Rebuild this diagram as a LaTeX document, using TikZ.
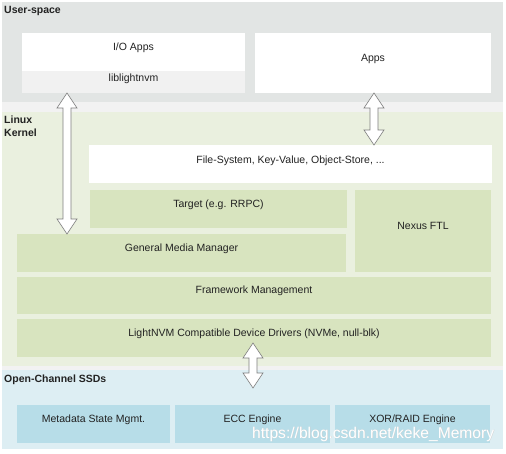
\documentclass[tikz,border=0pt]{standalone}
\usepackage{fontspec}
\setmainfont{Liberation Sans}
\usetikzlibrary{fit,calc}
\definecolor{usbg}{HTML}{E2E5E4}
\definecolor{stripc}{HTML}{F2F2F2}
\definecolor{kbg}{HTML}{EAF0DF}
\definecolor{gbox}{HTML}{D8E4BF}
\definecolor{obg}{HTML}{DDEEF3}
\definecolor{bbox}{HTML}{B7DDE8}
\definecolor{libc}{HTML}{F1F1F1}
\definecolor{txt}{HTML}{222222}
\definecolor{arrc}{HTML}{7F7F7F}
\newcommand{\blockarrow}[2]{%
  \draw[arrstyle] (#1) -- ($(#1)+(10,15)$) -- ($(#1)+(4,15)$) -- ($(#2)+(4,-15)$)
    -- ($(#2)+(10,-15)$) -- (#2) -- ($(#2)+(-10,-15)$) -- ($(#2)+(-4,-15)$)
    -- ($(#1)+(-4,15)$) -- ($(#1)+(-10,15)$) -- cycle;}
\begin{document}
\begin{tikzpicture}[x=1pt,y=-1pt,font=\fontsize{10.5}{12}\selectfont,
  bx/.style={inner sep=0pt,outer sep=0pt,draw=none,fill=#1},
  lbl/.style={inner sep=0pt,text height=7.5pt,text depth=2pt,text=txt,yshift=4.5pt},
  hdr/.style={inner sep=0pt,anchor=base west,font=\fontsize{10.5}{12}\selectfont\bfseries,text=txt,align=left},
  arrstyle/.style={draw=arrc,line width=0.6pt,fill=white,line join=miter}]
\useasboundingbox (0,0) rectangle (506,453);
\fill[white] (0,0) rectangle (506,453);
% regions
\node[bx=usbg,fit={(2,2) (503,102)}] (us) {};
\node[bx=stripc,fit={(2,102) (503,112)}] (strip1) {};
\node[bx=kbg,fit={(2,112) (503,366)}] (kern) {};
\node[bx=stripc,fit={(2,366) (503,370)}] (strip2) {};
\node[bx=obg,fit={(2,370) (503,449)}] (ocs) {};
\node[hdr] (uslbl) at (4,13.5) {User-space};
\node[hdr] (klbl) at (4,136.5) {Linux\\[1.5pt]Kernel};
\node[hdr] (olbl) at (4,382) {Open-Channel SSDs};
% user space
\node[bx=white,fit={(22,33) (245,71)},label={[lbl]center:I/O Apps}] (io) {};
\node[bx=libc,fit={(22,71) (245,93)},label={[lbl,yshift=-1.5pt]center:liblightnvm}] (lib) {};
\node[bx=white,fit={(255,33) (491,93)},label={[lbl]center:Apps}] (apps) {};
% kernel
\node[bx=white,fit={(89,145) (492,183)},label={[lbl,yshift=-1.5pt]center:{File-System, Key-Value, Object-Store, ...}}] (fs) {};
\node[bx=gbox,fit={(90,190) (347,228)},label={[lbl]center:Target (e.g. RRPC)}] (tgt) {};
\node[bx=gbox,fit={(355,190) (491,272)},label={[lbl]center:Nexus FTL}] (nexus) {};
\node[bx=gbox,fit={(17,234) (346,272)},label={[lbl]center:General Media Manager}] (gmm) {};
\node[bx=gbox,fit={(17,277) (491,314)},label={[lbl]center:Framework Management}] (fm) {};
\node[bx=gbox,fit={(17,319) (491,357)},label={[lbl]center:{LightNVM Compatible Device Drivers (NVMe, null-blk)}}] (drv) {};
% open-channel
\node[bx=bbox,fit={(17,405) (170,443)},label={[lbl]center:Metadata State Mgmt.}] (meta) {};
\node[bx=bbox,fit={(175,405) (330,443)},label={[lbl]center:ECC Engine}] (ecc) {};
\node[bx=bbox,fit={(335,405) (490,443)},label={[lbl]center:XOR/RAID Engine}] (xor) {};
% arrows
\coordinate (a1t) at (67,93);
\coordinate (a1b) at (67,234);
\coordinate (a2t) at (374,93);
\coordinate (a2b) at (374,145);
\coordinate (a3t) at (253,343);
\coordinate (a3b) at (253,388);
\blockarrow{a1t}{a1b}
\blockarrow{a2t}{a2b}
\blockarrow{a3t}{a3b}
% watermark
\node[inner sep=0pt,anchor=base west,font=\fontsize{15.6}{17}\selectfont,text=black!18] (wms) at (252.5,438.5) {https://blog.csdn.net/keke\_Memory};
\node[inner sep=0pt,anchor=base west,font=\fontsize{15.6}{17}\selectfont,text=white] (wm) at (252,438) {https://blog.csdn.net/keke\_Memory};
\end{tikzpicture}
\end{document}
